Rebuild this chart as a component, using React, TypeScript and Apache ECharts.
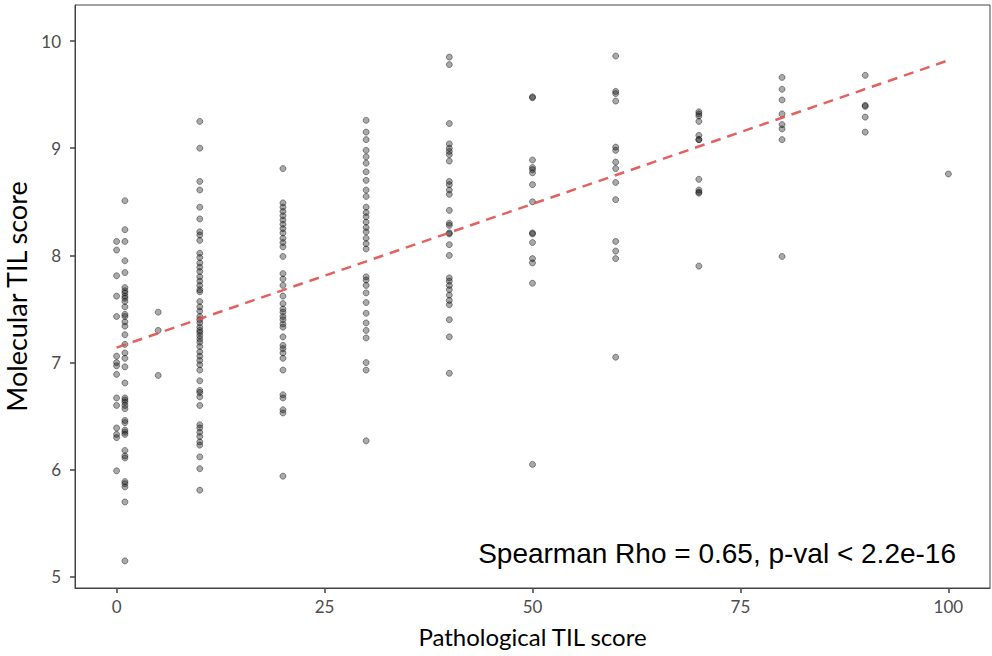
import React, { useEffect, useRef } from "react";
import * as echarts from "echarts";

// Molecular TIL score by pathological TIL score
const til0 = [8.13, 8.05, 7.81, 7.62, 7.43, 7.06, 7.0, 6.97, 6.89, 6.67, 6.6, 6.39, 6.33, 6.3, 5.99];
const til1 = [8.51, 8.24, 8.13, 7.95, 7.84, 7.7, 7.67, 7.65, 7.62, 7.6, 7.57, 7.52, 7.45, 7.43, 7.38, 7.34, 7.26, 7.17, 7.09, 7.04, 6.96, 6.81, 6.67, 6.65, 6.63, 6.6, 6.57, 6.46, 6.44, 6.37, 6.35, 6.33, 6.18, 6.13, 6.11, 5.89, 5.87, 5.84, 5.7, 5.15];
const til5 = [7.47, 7.3, 6.88];
const til10 = [9.25, 9.0, 8.69, 8.61, 8.45, 8.34, 8.22, 8.19, 8.14, 8.02, 7.98, 7.93, 7.89, 7.85, 7.8, 7.76, 7.72, 7.68, 7.66, 7.57, 7.52, 7.48, 7.43, 7.4, 7.37, 7.33, 7.3, 7.28, 7.25, 7.22, 7.19, 7.15, 7.1, 7.06, 7.02, 6.98, 6.93, 6.83, 6.74, 6.72, 6.68, 6.6, 6.42, 6.39, 6.35, 6.31, 6.26, 6.23, 6.12, 6.01, 5.81];
const til20 = [8.81, 8.49, 8.45, 8.41, 8.37, 8.33, 8.29, 8.25, 8.21, 8.16, 8.12, 8.08, 7.99, 7.83, 7.78, 7.72, 7.62, 7.55, 7.5, 7.47, 7.43, 7.4, 7.36, 7.33, 7.24, 7.16, 7.13, 7.09, 7.04, 6.93, 6.7, 6.67, 6.56, 6.53, 5.94];
const til30 = [9.26, 9.15, 9.08, 8.98, 8.92, 8.86, 8.78, 8.7, 8.61, 8.55, 8.45, 8.4, 8.36, 8.31, 8.26, 8.22, 8.16, 8.11, 8.06, 7.8, 7.77, 7.72, 7.65, 7.56, 7.46, 7.37, 7.3, 7.23, 7.0, 6.93, 6.27];
const til40 = [9.85, 9.78, 9.23, 9.04, 9.0, 8.97, 8.94, 8.88, 8.69, 8.66, 8.61, 8.57, 8.42, 8.3, 8.28, 8.21, 8.2, 8.1, 8.0, 7.79, 7.76, 7.72, 7.68, 7.63, 7.58, 7.54, 7.4, 7.24, 6.9];
const til50 = [9.48, 9.47, 8.89, 8.82, 8.8, 8.77, 8.66, 8.5, 8.21, 8.2, 8.12, 7.97, 7.93, 7.74, 6.05];
const til60 = [9.86, 9.53, 9.51, 9.44, 9.01, 8.98, 8.87, 8.81, 8.68, 8.52, 8.13, 8.04, 7.97, 7.05];
const til70 = [9.34, 9.32, 9.3, 9.25, 9.12, 9.08, 9.08, 8.71, 8.61, 8.59, 8.58, 7.9];
const til80 = [9.66, 9.55, 9.45, 9.32, 9.22, 9.18, 9.08, 7.99];
const til90 = [9.68, 9.4, 9.39, 9.29, 9.15];
const til100 = [8.76];

const pathScores = [0, 1, 5, 10, 20, 30, 40, 50, 60, 70, 80, 90, 100];
const molGroups = [til0, til1, til5, til10, til20, til30, til40, til50, til60, til70, til80, til90, til100];

// fitted line endpoints
const fitX = [0, 100];
const fitY = [7.14, 9.82];

const xTicks = [0, 25, 50, 75, 100];
const yTicks = [5, 6, 7, 8, 9, 10];

const annotation = "Spearman Rho = 0.65, p-val < 2.2e-16";

export default function App() {
  const ref = useRef<HTMLDivElement>(null);
  useEffect(() => {
    if (!ref.current) return;
    const chart = echarts.init(ref.current, undefined, { renderer: "svg" });
    const points: number[][] = [];
    pathScores.forEach((p, i) => {
      molGroups[i].forEach((m) => points.push([p, m]));
    });
    const tickFont = { fontFamily: "Lato", fontSize: 17, color: "#4d4d4d" };
    const axisLine = { show: true, onZero: false, lineStyle: { color: "#444", width: 1 } };
    const tickStyle = { color: "#444", width: 1.5 };
    chart.setOption({
      animation: false,
      backgroundColor: "#ffffff",
      grid: {
        left: 75,
        right: 2,
        top: 5,
        bottom: 68,
        show: true,
        borderColor: "#444",
        borderWidth: 1,
        backgroundColor: "transparent",
        containLabel: false,
        outerBoundsMode: "none",
      },
      xAxis: {
        type: "value",
        min: -5,
        max: 105,
        name: "Pathological TIL score",
        nameLocation: "middle",
        nameGap: 36,
        nameTextStyle: { fontFamily: "Lato", fontSize: 24, color: "#000" },
        axisLine,
        splitLine: { show: false },
        axisTick: { show: true, inside: false, length: 5, customValues: xTicks, lineStyle: tickStyle },
        axisLabel: { customValues: xTicks, margin: 10, ...tickFont },
      },
      yAxis: {
        type: "value",
        min: 4.897,
        max: 10.336,
        name: "Molecular TIL score",
        nameLocation: "middle",
        nameRotate: 90,
        nameGap: 40,
        nameTextStyle: { fontFamily: "Lato", fontSize: 27, color: "#000" },
        axisLine,
        splitLine: { show: false },
        axisTick: { show: true, inside: false, length: 5, customValues: yTicks, lineStyle: tickStyle },
        axisLabel: { customValues: yTicks, margin: 14, ...tickFont },
      },
      series: [
        {
          type: "scatter",
          data: points,
          symbol: "circle",
          symbolSize: 6,
          itemStyle: {
            color: "rgba(0,0,0,0.42)",
            borderColor: "rgba(0,0,0,0.5)",
            borderWidth: 1,
          },
          z: 2,
        },
        {
          type: "line",
          data: fitX.map((x, i) => [x, fitY[i]]),
          symbol: "none",
          lineStyle: { color: "rgba(224,80,76,0.9)", width: 2.5, type: [10, 7] },
          z: 3,
        },
      ],
      graphic: [
        {
          type: "text",
          x: 956,
          y: 553,
          style: {
            text: annotation,
            fontFamily: "Liberation Sans",
            fontSize: 28,
            fill: "#000",
            textAlign: "right",
            textVerticalAlign: "middle",
          },
        },
      ],
    });
    return () => chart.dispose();
  }, []);
  return (
    <div
      ref={ref}
      style={{ position: "fixed", left: 0, top: 0, width: 992, height: 656, background: "#fff" }}
    />
  );
}
